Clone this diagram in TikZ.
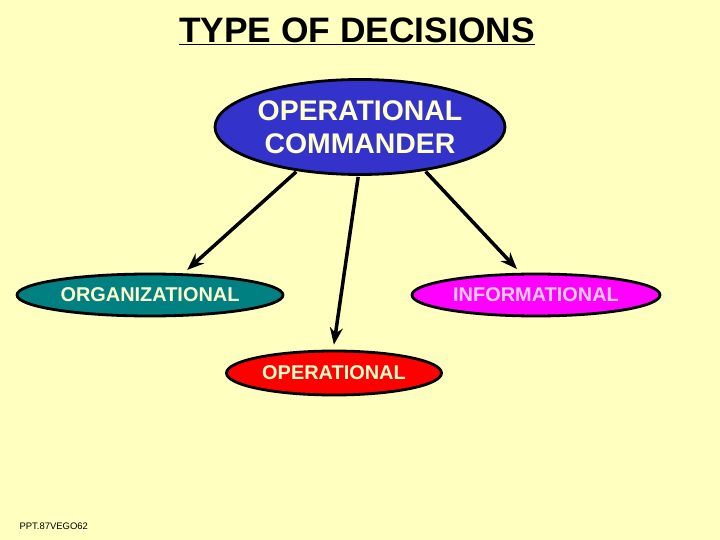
\documentclass[tikz,border=0pt]{standalone}
\usepackage{fontspec}
\setmainfont{Liberation Sans}
\usetikzlibrary{shapes.geometric,arrows.meta}
\definecolor{bgc}{RGB}{255,255,192}
\definecolor{blueE}{RGB}{51,51,204}
\definecolor{tealE}{RGB}{0,128,128}
\definecolor{magE}{RGB}{255,0,255}
\definecolor{redE}{RGB}{255,0,0}
\definecolor{creamT}{RGB}{255,255,204}
\definecolor{pinkT}{RGB}{255,204,255}
\tikzset{
  oval/.style={ellipse, draw=black, line width=2.8bp, inner sep=0pt, text=creamT},
  link/.style={line width=3.5bp, -{Stealth[length=17bp,width=13bp]}, shorten >=5bp, shorten <=1bp}
}
\begin{document}
\begin{tikzpicture}[x=1bp,y=-1bp]
\fill[bgc] (0,0) rectangle (720,540);
\useasboundingbox (0,0) rectangle (720,540);
\node[font=\fontsize{35.5}{38}\selectfont\bfseries] (title) at (357,31) {\underline{TYPE OF DECISIONS}};
\node[oval, fill=blueE, minimum width=290bp, minimum height=95bp, align=center,
      font=\fontsize{28.5}{33}\selectfont\bfseries] (top) at (360,127) {OPERATIONAL\\COMMANDER};
\node[oval, fill=tealE, minimum width=266bp, minimum height=42bp,
      font=\fontsize{20}{22}\selectfont\bfseries] (org) at (150,295) {ORGANIZATIONAL};
\node[oval, fill=magE, minimum width=248bp, minimum height=42bp, text=pinkT,
      font=\fontsize{20}{22}\selectfont\bfseries] (info) at (536,295) {INFORMATIONAL};
\node[oval, fill=redE, minimum width=215bp, minimum height=44bp,
      font=\fontsize{20}{22}\selectfont\bfseries] (oper) at (334,373) {OPERATIONAL};
\draw[link] (top.215) -- (org.33);
\draw[link] (top.268) -- (oper.92);
\draw[link] (top.326) -- (info.125);
\node[anchor=west, font=\fontsize{9.5}{11}\selectfont] (foot) at (16,526) {PPT.87VEGO62};
\end{tikzpicture}
\end{document}
